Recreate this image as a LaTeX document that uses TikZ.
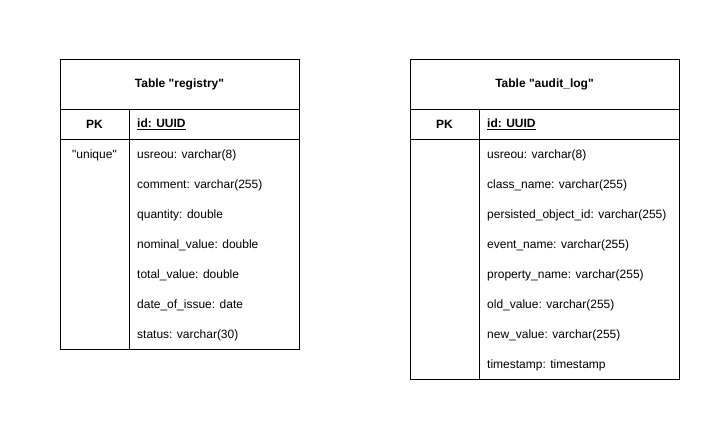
\documentclass[tikz,border=0pt]{standalone}
\usepackage{fontspec}
\setmainfont{Liberation Sans}[Ligatures=TeXOff]
\usepackage{tikz}
\usetikzlibrary{positioning}
\tikzset{
  tbl/.style={draw=black,line width=0.9pt},
  ttl/.style={font=\fontsize{12}{14}\selectfont\bfseries,inner sep=0pt},
  fld/.style={anchor=west,font=\fontsize{12}{14}\selectfont,inner sep=0pt},
  idf/.style={fld,font=\fontsize{12}{14}\selectfont\bfseries},
  key/.style={font=\fontsize{12}{14}\selectfont,inner sep=0pt}
}

\begin{document}
\begin{tikzpicture}[x=1pt,y=-1pt]
\useasboundingbox (0,0) rectangle (721,422);
% table registry
\draw[tbl] (60,59) rectangle (299,349);
\draw[tbl] (60,109) -- (299,109) (60,139) -- (299,139) (129,109) -- (129,349);
\node[ttl] (regtitle) at (179.5,84) {Table "registry"};
\node[ttl] (regpk) at (94.5,124) {PK};
\node[idf] (regid) at (137,124) {\underline{id: UUID}};
\node[key] (reguniq) at (94.5,155) {"unique"};
\foreach \f [count=\i from 0] in {usreou: varchar(8),comment: varchar(255),quantity: double,nominal\_value: double,total\_value: double,date\_of\_issue: date,status: varchar(30)}
  \node[fld] (reg\i) at (137,155+30*\i) {\f};
% table audit_log
\draw[tbl] (410,59) rectangle (679,379);
\draw[tbl] (410,109) -- (679,109) (410,139) -- (679,139) (479,109) -- (479,379);
\node[ttl] (audtitle) at (544.5,84) {Table "audit\_log"};
\node[ttl] (audpk) at (444.5,124) {PK};
\node[idf] (audid) at (487,124) {\underline{id: UUID}};
\foreach \f [count=\i from 0] in {usreou: varchar(8),class\_name: varchar(255),persisted\_object\_id: varchar(255),event\_name: varchar(255),property\_name: varchar(255),old\_value: varchar(255),new\_value: varchar(255),timestamp: timestamp}
  \node[fld] (aud\i) at (487,155+30*\i) {\f};
\end{tikzpicture}
\end{document}
